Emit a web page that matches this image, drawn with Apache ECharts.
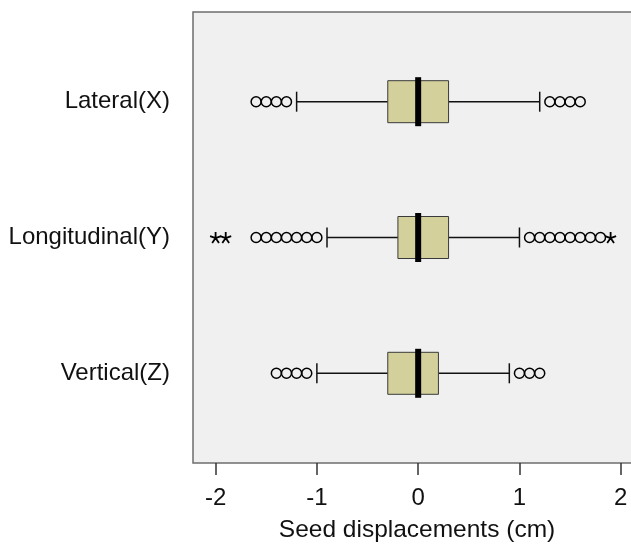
<!DOCTYPE html>
<html>
<head>
<meta charset="utf-8">
<script src="https://cdn.jsdelivr.net/npm/echarts@6/dist/echarts.min.js"></script>
<style>
  html, body { margin: 0; padding: 0; background: #fff; }
  #chart { width: 631px; height: 546px; }
</style>
</head>
<body>
<div id="chart"></div>
<script>
const FONT = '"Liberation Sans", Arial, sans-serif'

const categories = ['Lateral(X)', 'Longitudinal(Y)', 'Vertical(Z)']
const whiskerLow = [-1.2, -0.9, -1.0]
const q1 = [-0.3, -0.2, -0.3]
const median = [0, 0, 0]
const q3 = [0.3, 0.3, 0.2]
const whiskerHigh = [1.2, 1.0, 0.9]
// circles (outliers)
const outliers = [
  [-1.6, -1.5, -1.4, -1.3, 1.3, 1.4, 1.5, 1.6],
  [-1.6, -1.5, -1.4, -1.3, -1.2, -1.1, -1.0, 1.1, 1.2, 1.3, 1.4, 1.5, 1.6, 1.7, 1.8],
  [-1.4, -1.3, -1.2, -1.1, 1.0, 1.1, 1.2],
]
// asterisks (extremes)
const extremes = [[], [-2.0, -1.9, 1.9], []]
const xTicks = [-2, -1, 0, 1, 2]

const X_MIN = -2.223
const X_MAX = 2.2

const boxData = categories.map((c, i) => [i, whiskerLow[i], q1[i], median[i], q3[i], whiskerHigh[i]])
const outlierData = []
outliers.forEach((arr, i) => arr.forEach((v) => outlierData.push([v, i])))
const extremeData = []
extremes.forEach((arr, i) => arr.forEach((v) => extremeData.push([v, i])))

const renderBox = (params, api) => {
  const cat = api.value(0)
  const lo = api.coord([api.value(1), cat])
  const a = api.coord([api.value(2), cat])
  const m = api.coord([api.value(3), cat])
  const b = api.coord([api.value(4), cat])
  const hi = api.coord([api.value(5), cat])
  const y = m[1]
  const line = { stroke: '#111', lineWidth: 1.5 }
  return {
    type: 'group',
    children: [
      { type: 'line', shape: { x1: lo[0], y1: y, x2: a[0], y2: y }, style: line },
      { type: 'line', shape: { x1: b[0], y1: y, x2: hi[0], y2: y }, style: line },
      { type: 'line', shape: { x1: lo[0], y1: y - 10, x2: lo[0], y2: y + 10 }, style: line },
      { type: 'line', shape: { x1: hi[0], y1: y - 10, x2: hi[0], y2: y + 10 }, style: line },
      {
        type: 'rect',
        shape: { x: a[0], y: y - 21, width: b[0] - a[0], height: 42 },
        style: { fill: '#d3d09b', stroke: '#3a3a3a', lineWidth: 1 },
      },
      { type: 'rect', shape: { x: m[0] - 3, y: y - 24.5, width: 6, height: 49 }, style: { fill: '#000' } },
    ],
  }
}

const myChart = echarts.init(document.getElementById('chart'))

// plot width = (X_MAX - X_MIN) * 101.2 px per cm, right border falls outside the window
const PLOT_W = 448

const options = {
  animation: false,
  grid: [
    {
      left: 193, width: PLOT_W, top: 12, bottom: 83, outerBoundsMode: 'none',
      show: true, backgroundColor: '#f0f0f0', borderColor: '#6e6e6e', borderWidth: 1.5,
    },
    { left: 193, width: PLOT_W, top: 33.8, bottom: 104.8, outerBoundsMode: 'none' },
  ],
  xAxis: [
    {
      gridIndex: 0,
      type: 'value',
      min: X_MIN,
      max: X_MAX,
      splitLine: { show: false },
      axisLine: { show: false },
      axisTick: { show: true, customValues: xTicks, length: 12, lineStyle: { color: '#333', width: 1.5 } },
      axisLabel: { customValues: xTicks, margin: 23, color: '#111', fontSize: 24, fontFamily: FONT },
      name: 'Seed displacements (cm)',
      nameLocation: 'middle',
      nameGap: 55,
      nameTextStyle: { color: '#111', fontSize: 24.5, fontFamily: FONT },
    },
    { gridIndex: 1, type: 'value', min: X_MIN, max: X_MAX, show: false },
  ],
  yAxis: [
    { gridIndex: 0, type: 'value', show: false },
    {
      gridIndex: 1,
      type: 'category',
      data: categories,
      inverse: true,
      axisLine: { show: false },
      axisTick: { show: true, alignWithLabel: true, length: 18, lineStyle: { color: '#222', width: 1.5 } },
      axisLabel: { margin: 23, color: '#111', fontSize: 24, fontFamily: FONT },
    },
  ],
  series: [
    {
      type: 'custom',
      xAxisIndex: 1,
      yAxisIndex: 1,
      renderItem: renderBox,
      encode: { x: [1, 2, 3, 4, 5], y: 0 },
      data: boxData,
    },
    {
      type: 'scatter',
      xAxisIndex: 1,
      yAxisIndex: 1,
      symbol: 'circle',
      symbolSize: 10,
      itemStyle: { color: 'rgba(0,0,0,0)', borderColor: '#000', borderWidth: 1.5, opacity: 1 },
      data: outlierData,
    },
    {
      type: 'scatter',
      xAxisIndex: 1,
      yAxisIndex: 1,
      symbol: 'path://M5,5L5,0M5,5L9.76,3.45M5,5L7.94,9.05M5,5L2.06,9.05M5,5L0.24,3.45',
      symbolSize: 11,
      itemStyle: { color: 'rgba(0,0,0,0)', borderColor: '#000', borderWidth: 1.8, opacity: 1 },
      data: extremeData,
    },
  ],
}

myChart.setOption(options)
</script>
</body>
</html>
